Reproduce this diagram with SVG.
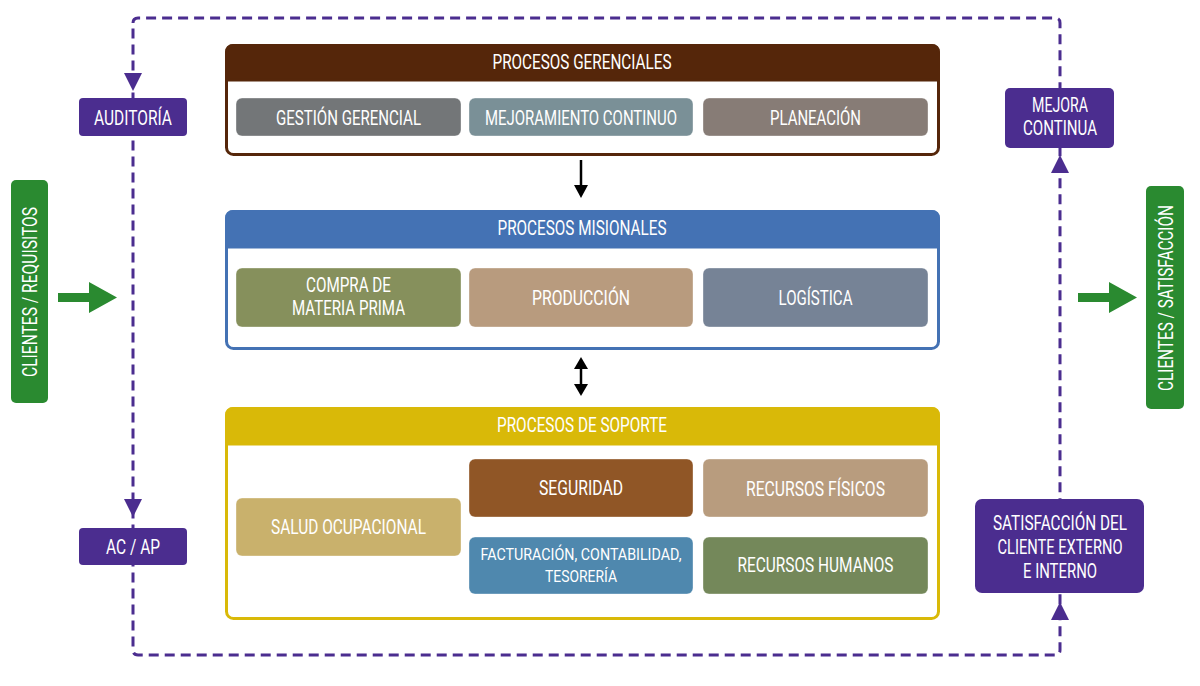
<svg xmlns="http://www.w3.org/2000/svg" width="1200" height="686" viewBox="0 0 1200 686">
<defs>
<style>
text{font-family:Roboto,"Liberation Sans",sans-serif;fill:#fff;text-anchor:middle;font-size:20px}
.sm{font-size:17px}
.box{stroke:#ffffff;stroke-opacity:0.35;stroke-width:1}
.dash{fill:none;stroke:#4B2D8F;stroke-width:3;stroke-dasharray:10 6}
.pur{fill:#4B2D8F}
.grn{fill:#2A8A30}
.blk{fill:#000}
</style>
</defs>
<rect width="1200" height="686" fill="#fff"/>
<g id="connectors">
<path class="dash" d="M133,23 Q133,18 138,18 L1055,18 Q1060,18 1060,23 L1060,650 Q1060,655 1055,655 L138,655 Q133,655 133,650 Z"/>
<polygon class="pur" points="124,73 142,73 133,91"/>
<polygon class="pur" points="124,499 142,499 133,517"/>
<polygon class="pur" points="1051,173 1069,173 1060,155"/>
<polygon class="pur" points="1051,620 1069,620 1060,602"/>
<line x1="581" y1="160" x2="581" y2="188" stroke="#000" stroke-width="2.5"/>
<polygon class="blk" points="574,185 588,185 581,198"/>
<line x1="581" y1="366" x2="581" y2="388" stroke="#000" stroke-width="2.5"/>
<polygon class="blk" points="574,369 588,369 581,357"/>
<polygon class="blk" points="574,384 588,384 581,396"/>
<polygon class="grn" points="58,293 89,293 89,282 117,297.5 89,313 89,302 58,302"/>
<polygon class="grn" points="1078,293 1109,293 1109,282 1137,297.5 1109,313 1109,302 1078,302"/>
</g>
<g id="gerenciales">
<rect x="226.5" y="45.5" width="712" height="109" rx="7" fill="#fff" stroke="#55260A" stroke-width="3"/>
<path d="M226.5,80 L226.5,52.5 Q226.5,45.5 233.5,45.5 L931.5,45.5 Q938.5,45.5 938.5,52.5 L938.5,80 Z" fill="#55260A" stroke="#55260A" stroke-width="3"/>
<text x="582" y="69" textLength="179" lengthAdjust="spacingAndGlyphs">PROCESOS GERENCIALES</text>
</g>
<g id="gestion"><rect class="box" x="236" y="98" width="225" height="38" rx="6" fill="#737678"/><text x="348.5" y="124.5" textLength="145" lengthAdjust="spacingAndGlyphs">GESTIÓN GERENCIAL</text></g>
<g id="mejoramiento"><rect class="box" x="469" y="98" width="224" height="38" rx="6" fill="#7A9097"/><text x="581" y="124.5" textLength="192" lengthAdjust="spacingAndGlyphs">MEJORAMIENTO CONTINUO</text></g>
<g id="planeacion"><rect class="box" x="703" y="98" width="225" height="38" rx="6" fill="#877C76"/><text x="815.5" y="124.5" textLength="91" lengthAdjust="spacingAndGlyphs">PLANEACIÓN</text></g>

<g id="misionales">
<rect x="226.5" y="211.5" width="712" height="137" rx="7" fill="#fff" stroke="#4472B4" stroke-width="3"/>
<path d="M226.5,247 L226.5,218.5 Q226.5,211.5 233.5,211.5 L931.5,211.5 Q938.5,211.5 938.5,218.5 L938.5,247 Z" fill="#4472B4" stroke="#4472B4" stroke-width="3"/>
<text x="582" y="235" textLength="169" lengthAdjust="spacingAndGlyphs">PROCESOS MISIONALES</text>
</g>
<g id="compra"><rect class="box" x="236" y="268" width="225" height="59" rx="6" fill="#86905C"/><text x="348.5" y="291.5" textLength="85" lengthAdjust="spacingAndGlyphs">COMPRA DE</text><text x="348.5" y="315" textLength="113" lengthAdjust="spacingAndGlyphs">MATERIA PRIMA</text></g>
<g id="produccion"><rect class="box" x="469" y="268" width="224" height="59" rx="6" fill="#B89B7E"/><text x="581" y="304.5" textLength="98" lengthAdjust="spacingAndGlyphs">PRODUCCIÓN</text></g>
<g id="logistica"><rect class="box" x="703" y="268" width="225" height="59" rx="6" fill="#768396"/><text x="815.5" y="304.5" textLength="74" lengthAdjust="spacingAndGlyphs">LOGÍSTICA</text></g>

<g id="soporte">
<rect x="226.5" y="408.5" width="712" height="210" rx="7" fill="#fff" stroke="#D9B908" stroke-width="3"/>
<path d="M226.5,444 L226.5,415.5 Q226.5,408.5 233.5,408.5 L931.5,408.5 Q938.5,408.5 938.5,415.5 L938.5,444 Z" fill="#D9B908" stroke="#D9B908" stroke-width="3"/>
<text x="582" y="432" textLength="170" lengthAdjust="spacingAndGlyphs">PROCESOS DE SOPORTE</text>
</g>
<g id="salud"><rect class="box" x="236" y="498" width="225" height="58" rx="6" fill="#C9B16C"/><text x="348.5" y="533.5" textLength="155" lengthAdjust="spacingAndGlyphs">SALUD OCUPACIONAL</text></g>
<g id="seguridad"><rect class="box" x="469" y="459" width="224" height="58" rx="6" fill="#905626"/><text x="581" y="494.5" textLength="84" lengthAdjust="spacingAndGlyphs">SEGURIDAD</text></g>
<g id="fisicos"><rect class="box" x="703" y="459" width="225" height="58" rx="6" fill="#B89C7E"/><text x="815.5" y="495.5" textLength="139" lengthAdjust="spacingAndGlyphs">RECURSOS FÍSICOS</text></g>
<g id="facturacion"><rect class="box" x="469" y="537" width="224" height="57" rx="6" fill="#4F88AE"/><text class="sm" x="581" y="560" textLength="201" lengthAdjust="spacingAndGlyphs">FACTURACIÓN, CONTABILIDAD,</text><text class="sm" x="581" y="582" textLength="72" lengthAdjust="spacingAndGlyphs">TESORERÍA</text></g>
<g id="humanos"><rect class="box" x="703" y="537" width="225" height="57" rx="6" fill="#74885A"/><text x="815.5" y="571.5" textLength="156" lengthAdjust="spacingAndGlyphs">RECURSOS HUMANOS</text></g>

<g id="auditoria"><rect x="79" y="98" width="108" height="38" rx="4" fill="#4B2D8F"/><text x="133" y="124.5" textLength="78" lengthAdjust="spacingAndGlyphs">AUDITORÍA</text></g>
<g id="acap"><rect x="79" y="528" width="108" height="37" rx="4" fill="#4B2D8F"/><text x="133" y="553.5" textLength="54" lengthAdjust="spacingAndGlyphs">AC / AP</text></g>
<g id="mejora"><rect x="1005" y="88" width="109" height="60" rx="5" fill="#4B2D8F"/><text x="1060" y="111.5" textLength="56" lengthAdjust="spacingAndGlyphs">MEJORA</text><text x="1060" y="135" textLength="74" lengthAdjust="spacingAndGlyphs">CONTINUA</text></g>
<g id="satisfaccion"><rect x="975" y="499" width="169" height="94" rx="7" fill="#4B2D8F"/><text x="1060" y="529.5" textLength="134" lengthAdjust="spacingAndGlyphs">SATISFACCIÓN DEL</text><text x="1060" y="553.5" textLength="125" lengthAdjust="spacingAndGlyphs">CLIENTE EXTERNO</text><text x="1060" y="577.5" textLength="74" lengthAdjust="spacingAndGlyphs">E INTERNO</text></g>
<g id="clientes-req"><rect x="11" y="180" width="37" height="223" rx="5" fill="#2A8A30"/><text transform="translate(36.5,292) rotate(-90)" textLength="170" lengthAdjust="spacingAndGlyphs">CLIENTES / REQUISITOS</text></g>
<g id="clientes-sat"><rect x="1146" y="186" width="38" height="223" rx="5" fill="#2A8A30"/><text transform="translate(1172.5,298) rotate(-90)" textLength="186" lengthAdjust="spacingAndGlyphs">CLIENTES / SATISFACCIÓN</text></g>
</svg>
